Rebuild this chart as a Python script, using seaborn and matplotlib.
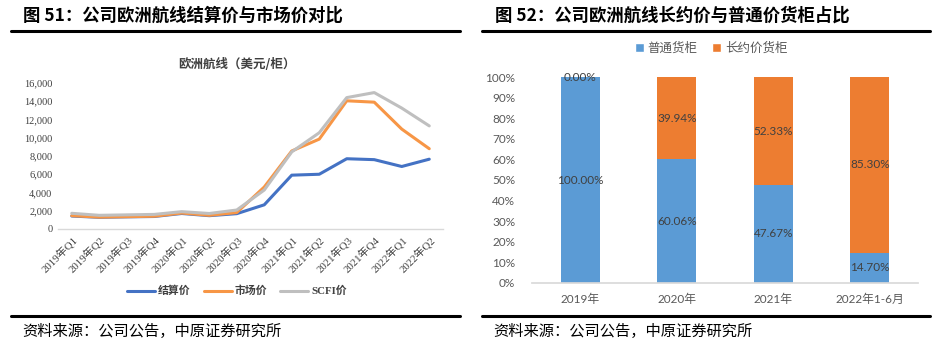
import matplotlib
matplotlib.use("Agg")
import matplotlib.pyplot as plt
from matplotlib.patches import Patch
from matplotlib.lines import Line2D
from matplotlib.ticker import FuncFormatter, PercentFormatter
import seaborn as sns
import pandas as pd

# ---- data: Europe route prices (USD/box) ----
quarters = ["2019年Q1", "2019年Q2", "2019年Q3", "2019年Q4",
            "2020年Q1", "2020年Q2", "2020年Q3", "2020年Q4",
            "2021年Q1", "2021年Q2", "2021年Q3", "2021年Q4",
            "2022年Q1", "2022年Q2"]
settle_price = [1420, 1280, 1330, 1370, 1700, 1460, 1680, 2650,
                5900, 6000, 7700, 7600, 6850, 7650]
market_price = [1460, 1300, 1350, 1400, 1750, 1500, 1800, 4600,
                8550, 9850, 14050, 13900, 10950, 8800]
scfi_price = [1720, 1500, 1550, 1600, 1900, 1700, 2080, 4270,
              8450, 10550, 14400, 14950, 13250, 11300]
line_names = ["结算价", "市场价", "SCFI价"]

# ---- data: long-term vs ordinary container share ----
years = ["2019年", "2020年", "2021年", "2022年1-6月"]
ordinary_share = [100.00, 60.06, 47.67, 14.70]
contract_share = [0.00, 39.94, 52.33, 85.30]
bar_names = ["普通货柜", "长约价货柜"]

sns.set_theme(style="white")
plt.rcParams["font.family"] = ["Noto Sans CJK SC", "DejaVu Sans"]
plt.rcParams["axes.unicode_minus"] = False

W, H = 935, 345
fig = plt.figure(figsize=(W / 100, H / 100), dpi=100)
fig.patch.set_facecolor("white")


def fx(px):
    return px / W


def fy(py):
    return 1 - py / H


# ---- headers, rules and source notes ----
fig.text(fx(23), fy(16), "图 51：公司欧洲航线结算价与市场价对比", fontsize=12.5,
         fontweight="bold", va="center", ha="left", color="black")
fig.text(fx(495), fy(16), "图 52：公司欧洲航线长约价与普通价货柜占比", fontsize=12.5,
         fontweight="bold", va="center", ha="left", color="black")
for x0, x1 in [(11, 460), (482, 930)]:
    for yy in (31, 316):
        fig.add_artist(Line2D([fx(x0), fx(x1)], [fy(yy), fy(yy)], color="black",
                              lw=2.2, transform=fig.transFigure))
fig.text(fx(22), fy(331), "资料来源：公司公告，中原证券研究所", fontsize=11,
         va="center", ha="left", color="black")
fig.text(fx(493), fy(331), "资料来源：公司公告，中原证券研究所", fontsize=11,
         va="center", ha="left", color="black")

# ---- left: line chart ----
axl = fig.add_axes([fx(58), fy(229), fx(443) - fx(58), fy(83) - fy(229)])
df_lines = pd.DataFrame({
    "quarter": quarters * 3,
    "price": settle_price + market_price + scfi_price,
    "series": sum([[n] * len(quarters) for n in line_names], []),
})
line_colors = ["#4472C4", "#F79646", "#BFBFBF"]
sns.lineplot(data=df_lines, x="quarter", y="price", hue="series",
             hue_order=line_names, palette=line_colors, linewidth=2.2,
             sort=False, legend=False, ax=axl)
axl.set_xlim(-0.5, len(quarters) - 0.5)
axl.set_ylim(0, 16000)
axl.set_yticks(range(0, 16001, 2000))
axl.yaxis.set_major_formatter(FuncFormatter(lambda v, p: f"{int(v):,}"))
axl.set_xlabel("")
axl.set_ylabel("")
for s in ["top", "right", "left"]:
    axl.spines[s].set_visible(False)
axl.spines["bottom"].set_color("#D9D9D9")
axl.spines["bottom"].set_linewidth(1.0)
axl.tick_params(axis="both", length=0, pad=4)
for lab in axl.get_yticklabels():
    lab.set_family(["Liberation Serif", "Noto Sans CJK SC"])
    lab.set_fontsize(7.5)
    lab.set_color("#404040")
axl.set_xticks(range(len(quarters)))
axl.set_xticklabels(quarters, rotation=45, ha="right", rotation_mode="anchor",
                    family=["Liberation Serif", "Noto Sans CJK SC"],
                    fontsize=7.8, color="#404040")
axl.set_facecolor("white")
fig.text(fx(237), fy(64), "欧洲航线（美元/柜）", fontsize=9, fontweight="bold",
         ha="center", va="center", color="#404040")
handles = [Line2D([], [], color=c, lw=2.2) for c in line_colors]
fig.legend(handles, line_names, loc="center", bbox_to_anchor=(fx(237), fy(291)),
           ncol=3, frameon=False, handlelength=2.6, handletextpad=0.25,
           columnspacing=1.2, prop={"family": ["Liberation Serif", "Noto Sans CJK SC"],
                                    "weight": "bold", "size": 7.8},
           labelcolor="#404040")

# ---- right: stacked 100% bar chart ----
axr = fig.add_axes([fx(532), fy(282.7), fx(918) - fx(532), fy(77.3) - fy(282.7)])
df_bars = pd.DataFrame({
    "year": years,
    "ordinary": [v / 100 for v in ordinary_share],
    "contract": [v / 100 for v in contract_share],
})
df_bars["total"] = df_bars["ordinary"] + df_bars["contract"]
blue, orange = "#5B9BD5", "#ED7D31"
sns.barplot(data=df_bars, x="year", y="total", color=orange, width=0.4,
            saturation=1, ax=axr)
sns.barplot(data=df_bars, x="year", y="ordinary", color=blue, width=0.4,
            saturation=1, ax=axr)
for b in axr.patches:
    b.set_edgecolor("none")
axr.set_ylim(0, 1)
axr.set_xlim(-0.5, len(years) - 0.5)
axr.set_yticks([i / 10 for i in range(11)])
axr.yaxis.set_major_formatter(PercentFormatter(1.0, decimals=0))
axr.set_xlabel("")
axr.set_ylabel("")
for s in ["top", "right", "left"]:
    axr.spines[s].set_visible(False)
axr.spines["bottom"].set_color("#D9D9D9")
axr.tick_params(axis="both", length=0)
axr.tick_params(axis="y", pad=12)
axr.tick_params(axis="x", pad=8)
for lab in axr.get_yticklabels() + axr.get_xticklabels():
    lab.set_family(["Lato", "Noto Sans CJK SC"])
    lab.set_fontsize(8.5)
    lab.set_color("#595959")

for i, (o, c) in enumerate(zip(df_bars["ordinary"], df_bars["contract"])):
    axr.text(i, o / 2, f"{o * 100:.2f}%", ha="center", va="center",
             fontsize=8.5, color="#404040", family=["Lato", "DejaVu Sans"])
    axr.text(i, o + c / 2, f"{c * 100:.2f}%", ha="center", va="center",
             fontsize=8.5, color="#404040", family=["Lato", "DejaVu Sans"])

bar_handles = [Patch(facecolor=blue), Patch(facecolor=orange)]
fig.legend(bar_handles, bar_names, loc="center", bbox_to_anchor=(fx(711), fy(48)),
           ncol=2, frameon=False, handlelength=0.7, handleheight=0.7,
           handletextpad=0.3, columnspacing=1.2,
           prop={"family": ["Noto Sans CJK SC"], "size": 9},
           labelcolor="#595959")

fig.savefig("out.png", dpi=100, facecolor="white")
